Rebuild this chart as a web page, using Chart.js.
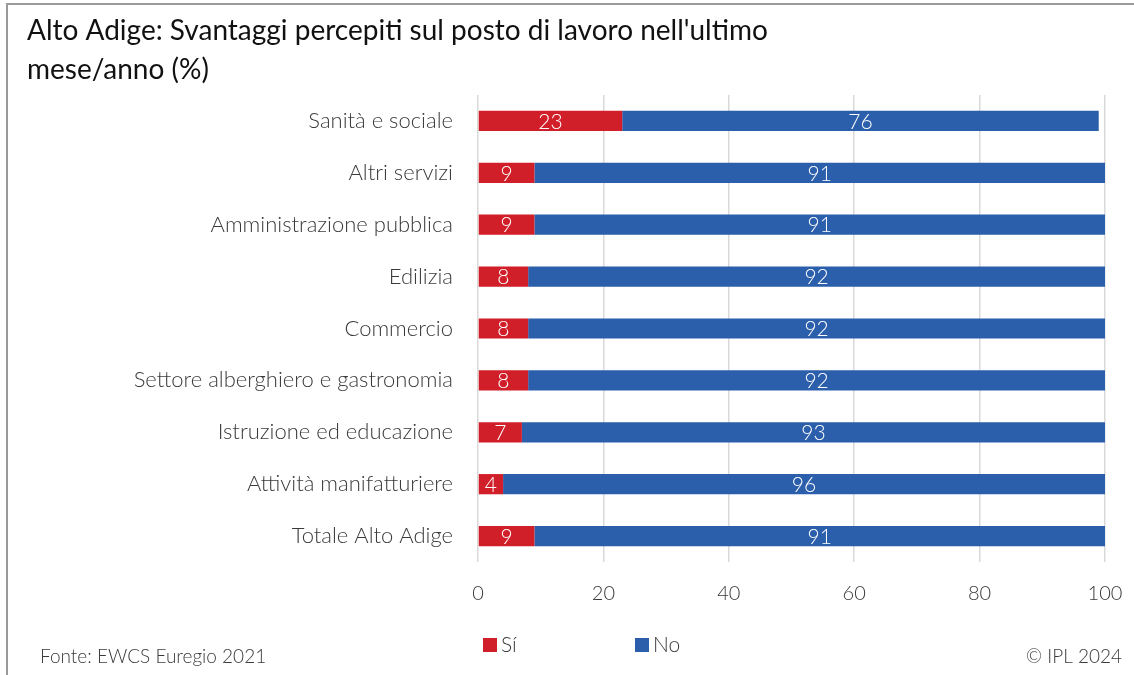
<!DOCTYPE html>
<html lang="it">
<head>
<meta charset="UTF-8">
<title>Svantaggi percepiti sul posto di lavoro</title>
<script src="https://cdn.jsdelivr.net/npm/chart.js"></script>
<style>
  html, body { margin: 0; padding: 0; background: #fff; }
  #wrap { width: 1134px; height: 675px; }
</style>
</head>
<body>
<div id="wrap"><canvas id="chart" width="1134" height="675"></canvas></div>
<script>
// Settori e percentuali
const settori = [
  'Sanità e sociale',
  'Altri servizi',
  'Amministrazione pubblica',
  'Edilizia',
  'Commercio',
  'Settore alberghiero e gastronomia',
  'Istruzione ed educazione',
  'Attività manifatturiere',
  'Totale Alto Adige'
];
const si = [23, 9, 9, 8, 8, 8, 7, 4, 9];
const no = [76, 91, 91, 92, 92, 92, 93, 96, 91];
const xTicks = [0, 20, 40, 60, 80, 100];

const FONT = 'Lato, "Source Sans Pro", "Open Sans", sans-serif';
const TEXT = '#3a3a3a';

// cornice, titolo, legenda, note
const decor = {
  id: 'decor',
  beforeDraw(chart) {
    const ctx = chart.ctx;
    ctx.save();
    ctx.strokeStyle = '#9a9a9a';
    ctx.lineWidth = 2;
    ctx.beginPath();
    ctx.moveTo(7, 675);
    ctx.lineTo(7, 4);
    ctx.lineTo(1134, 4);
    ctx.stroke();
    ctx.restore();
  },
  afterDraw(chart) {
    const ctx = chart.ctx;
    ctx.save();
    ctx.fillStyle = '#111';
    ctx.font = '400 28px ' + FONT;
    ctx.textBaseline = 'middle';
    ctx.textAlign = 'left';
    ctx.fillText("Alto Adige: Svantaggi percepiti sul posto di lavoro nell'ultimo", 27, 31);
    ctx.fillText('mese/anno (%)', 27, 70);

    // legenda
    const lx = [483, 635];
    ctx.font = '300 21px ' + FONT;
    chart.data.datasets.forEach((ds, i) => {
      ctx.fillStyle = ds.backgroundColor;
      ctx.fillRect(lx[i], 638, 14, 14);
      ctx.fillStyle = TEXT;
      ctx.fillText(ds.label, lx[i] + 18, 645);
    });

    // fonte e copyright
    ctx.font = '300 19px ' + FONT;
    ctx.fillText('Fonte: EWCS Euregio 2021', 40, 657);
    ctx.textAlign = 'right';
    ctx.fillText('© IPL 2024', 1122, 657);
    ctx.restore();
  }
};

// valori dentro le barre
const valueLabels = {
  id: 'valueLabels',
  afterDatasetsDraw(chart) {
    const ctx = chart.ctx;
    ctx.save();
    ctx.fillStyle = '#fff';
    ctx.font = '300 21px ' + FONT;
    ctx.textAlign = 'center';
    ctx.textBaseline = 'middle';
    chart.data.datasets.forEach((ds, i) => {
      chart.getDatasetMeta(i).data.forEach((bar, j) => {
        const cx = (bar.x + bar.base) / 2;
        ctx.fillText(String(ds.data[j]), cx, bar.y + 1);
      });
    });
    ctx.restore();
  }
};

new Chart(document.getElementById('chart'), {
  type: 'bar',
  data: {
    labels: settori,
    datasets: [
      { label: 'Sí', data: si, backgroundColor: '#D11F29' },
      { label: 'No', data: no, backgroundColor: '#2B5EAB' }
    ]
  },
  options: {
    indexAxis: 'y',
    responsive: false,
    animation: false,
    layout: { padding: { top: 95, right: 29, left: 0, bottom: 0 } },
    datasets: { bar: { barPercentage: 0.39, categoryPercentage: 1 } },
    plugins: {
      legend: { display: false },
      title: { display: false },
      tooltip: { enabled: false }
    },
    scales: {
      x: {
        stacked: true,
        min: 0,
        max: 100,
        afterBuildTicks(scale) { scale.ticks = xTicks.map(v => ({ value: v })); },
        afterFit(scale) {
          scale.height = 113;
          scale.paddingLeft = 0;
          scale.paddingRight = 0;
        },
        border: { display: false },
        grid: { color: '#d9d9d9', lineWidth: 1.5, drawTicks: false },
        ticks: { padding: 20, color: TEXT, font: { family: FONT, size: 20, weight: '300' } }
      },
      y: {
        stacked: true,
        afterFit(scale) { scale.width = 478; },
        border: { display: false },
        grid: { display: false },
        ticks: { padding: 17, color: TEXT, font: { family: FONT, size: 22, weight: '300' } }
      }
    }
  },
  plugins: [decor, valueLabels]
});
</script>
</body>
</html>
